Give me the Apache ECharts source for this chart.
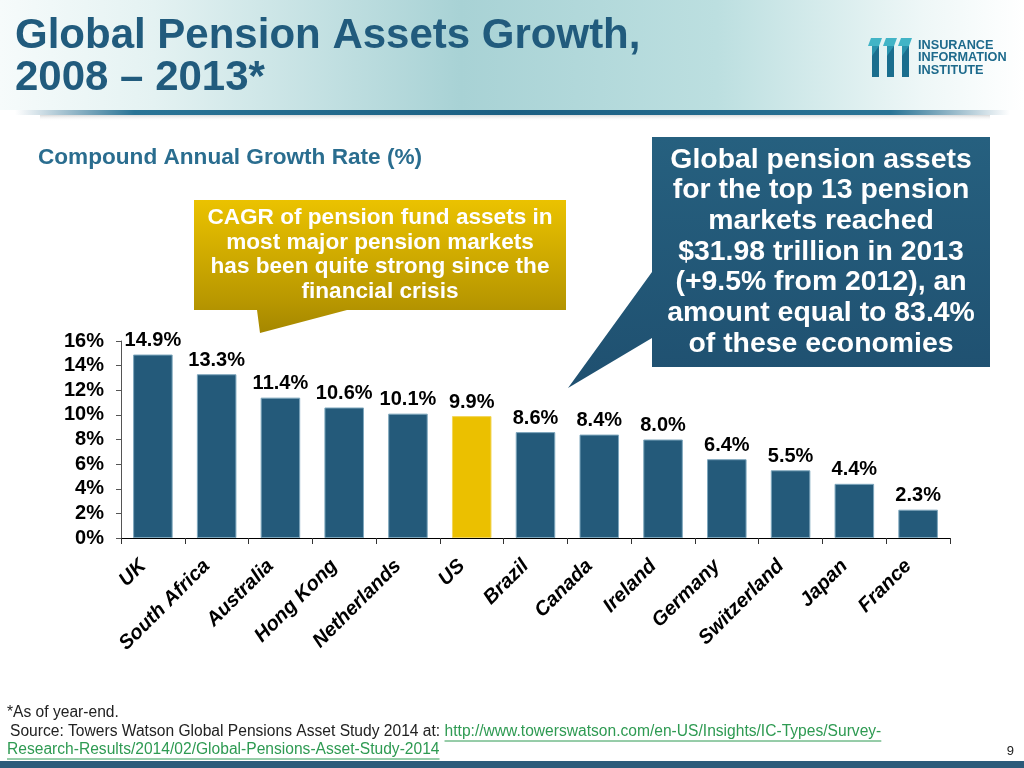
<!DOCTYPE html>
<html>
<head>
<meta charset="utf-8">
<script src="https://cdn.jsdelivr.net/npm/echarts@6/dist/echarts.min.js"></script>
<style>
html,body{margin:0;padding:0;background:#fff;}
#chart{width:1024px;height:768px;}
</style>
</head>
<body>
<div id="chart"></div>
<script>
// ---- data ----
const categories = ['UK','South Africa','Australia','Hong Kong','Netherlands','US','Brazil','Canada','Ireland','Germany','Switzerland','Japan','France'];
const cagrValues = [14.9,13.3,11.4,10.6,10.1,9.9,8.6,8.4,8.0,6.4,5.5,4.4,2.3];
const highlightCategory = 'US';
const yMin = 0, yMax = 16, yStep = 2;

const titleLines = ['Global Pension Assets Growth,', '2008 \u2013 2013*'];
const subtitle = 'Compound Annual Growth Rate (%)';
const yellowNote = ['CAGR of pension fund assets in','most major pension markets','has been quite strong since the','financial crisis'];
const blueNote = ['Global pension assets','for the top 13 pension','markets reached','$31.98 trillion in 2013','(+9.5% from 2012), an','amount equal to 83.4%','of these economies'];
const footNote = '*As of year-end.';
const sourceText = 'Source: Towers Watson Global Pensions Asset Study 2014 at: ';
const linkLine1 = 'http://www.towerswatson.com/en-US/Insights/IC-Types/Survey-';
const linkLine2 = 'Research-Results/2014/02/Global-Pensions-Asset-Study-2014';
const pageNumber = '9';
const logoLines = ['INSURANCE','INFORMATION','INSTITUTE'];

// ---- helpers ----
const FONT = "'Liberation Sans', Arial, Helvetica, sans-serif";
const BLUE = '#245a7a';
const GOLD = '#ebc000';
const mctx = document.createElement('canvas').getContext('2d');
function textWidth(t, size, weight){ mctx.font = (weight||'normal') + ' ' + size + 'px ' + FONT; return mctx.measureText(t).width; }

const chart = echarts.init(document.getElementById('chart'));

const graphics = [];
// header background
graphics.push({type:'rect', shape:{x:0,y:0,width:1024,height:110}, silent:true, z:-10,
  style:{fill:{type:'linear',x:0,y:0,x2:1,y2:0,colorStops:[
    {offset:0,color:'#f6fbfb'},{offset:0.15,color:'#e4f2f2'},{offset:0.45,color:'#a8d2d5'},
    {offset:0.7,color:'#bcdfe0'},{offset:0.9,color:'#eef7f7'},{offset:1,color:'#ffffff'}]}}});
// blue rule with fading ends
graphics.push({type:'rect', shape:{x:15,y:110,width:995,height:5}, silent:true, z:-9,
  style:{fill:{type:'linear',x:0,y:0,x2:1,y2:0,colorStops:[
    {offset:0,color:'rgba(30,100,135,0)'},{offset:0.12,color:'#2a7496'},{offset:0.5,color:'#1b5f82'},
    {offset:0.88,color:'#2a7496'},{offset:1,color:'rgba(30,100,135,0)'}]}}});
graphics.push({type:'rect', shape:{x:40,y:115,width:950,height:6}, silent:true, z:-9,
  style:{fill:{type:'linear',x:0,y:0,x2:0,y2:1,colorStops:[
    {offset:0,color:'rgba(150,150,150,0.35)'},{offset:1,color:'rgba(255,255,255,0)'}]}}});
// title
graphics.push({type:'text', left:15, top:15, silent:true,
  style:{text:titleLines.join('\n'), fontFamily:FONT, fontSize:42, fontWeight:'bold', fill:'#215b7d', lineHeight:42}});
// logo icon
for (let i=0;i<3;i++){
  const x0 = 868 + i*15;
  graphics.push({type:'polygon', silent:true, shape:{points:[[x0+3,38],[x0+14,38],[x0+11,46],[x0,46]]}, style:{fill:'#42b4c6'}});
  graphics.push({type:'rect', silent:true, shape:{x:x0+4,y:46,width:7,height:31}, style:{fill:'#1a6e8e'}});
  graphics.push({type:'polygon', silent:true, shape:{points:[[x0+4,46],[x0+11,46],[x0+4,56]]}, style:{fill:'#2a93ad'}});
}
logoLines.forEach((t,i)=>{
  graphics.push({type:'text', silent:true, style:{text:t, x:918, y:45+i*12.5, fontFamily:FONT, fontSize:12.7, fontWeight:'bold', fill:'#1d6a8c', verticalAlign:'middle'}});
});
// subtitle
graphics.push({type:'text', silent:true, style:{text:subtitle, x:38, y:158, fontFamily:FONT, fontSize:22.6, fontWeight:'bold', fill:'#2a6d8f', verticalAlign:'middle'}});
// yellow callout
graphics.push({type:'polygon', silent:true, shape:{points:[[194,200],[566,200],[566,310],[347,310],[260,333],[257,310],[194,310]]},
  style:{fill:{type:'linear',x:0,y:0,x2:0,y2:1,colorStops:[{offset:0,color:'#ebc200'},{offset:0.75,color:'#b99800'},{offset:1,color:'#a58700'}]}}});
graphics.push({type:'text', silent:true, style:{text:yellowNote.join('\n'), x:380, y:205.5, fontFamily:FONT, fontSize:22.6, fontWeight:'bold', fill:'#ffffff', align:'center', verticalAlign:'top', lineHeight:24.7}});
// blue callout
graphics.push({type:'polygon', silent:true, shape:{points:[[652,137],[990,137],[990,367],[652,367],[652,338],[568,388],[652,272]]},
  style:{fill:{type:'linear',x:0,y:0,x2:0,y2:1,colorStops:[{offset:0,color:'#26607f'},{offset:1,color:'#1f5070'}]}}});
graphics.push({type:'text', silent:true, style:{text:blueNote.join('\n'), x:821, y:144.5, fontFamily:FONT, fontSize:28.4, fontWeight:'bold', fill:'#ffffff', align:'center', verticalAlign:'top', lineHeight:30.7}});
// footer
const fs = 15.6;
graphics.push({type:'text', silent:true, style:{text:footNote, x:7, y:713, fontFamily:FONT, fontSize:fs, fill:'#222', verticalAlign:'middle'}});
graphics.push({type:'text', silent:true, style:{text:sourceText, x:10, y:732, fontFamily:FONT, fontSize:fs, fill:'#222', verticalAlign:'middle'}});
const linkX1 = 10 + textWidth(sourceText, fs);
const LINK = '#2e9a52';
graphics.push({type:'text', silent:true, style:{text:linkLine1, x:linkX1, y:732, fontFamily:FONT, fontSize:fs, fill:LINK, verticalAlign:'middle'}});
graphics.push({type:'line', silent:true, shape:{x1:linkX1,y1:741,x2:linkX1+textWidth(linkLine1,fs),y2:741}, style:{stroke:LINK,lineWidth:1}});
graphics.push({type:'text', silent:true, style:{text:linkLine2, x:7, y:750, fontFamily:FONT, fontSize:fs, fill:LINK, verticalAlign:'middle'}});
graphics.push({type:'line', silent:true, shape:{x1:7,y1:759,x2:7+textWidth(linkLine2,fs),y2:759}, style:{stroke:LINK,lineWidth:1}});
graphics.push({type:'text', silent:true, style:{text:pageNumber, x:1014, y:751, fontFamily:FONT, fontSize:13, fill:'#222', align:'right', verticalAlign:'middle'}});
graphics.push({type:'rect', silent:true, shape:{x:0,y:761,width:1024,height:7}, style:{fill:'#2c5b7a'}});

const option = {
  animation:false,
  backgroundColor:'#ffffff',
  textStyle:{fontFamily:FONT},
  grid:{left:121, right:74, top:341, bottom:230, containLabel:false},
  xAxis:{
    type:'category', data:categories,
    axisLine:{show:true, lineStyle:{color:'#000', width:1.2}},
    axisTick:{show:true, alignWithLabel:false, interval:0, length:6, lineStyle:{color:'#333'}},
    axisLabel:{interval:0, rotate:45, margin:15, padding:[0,14,0,0], color:'#000', fontSize:20, fontWeight:'bold', fontStyle:'italic', fontFamily:FONT}
  },
  yAxis:{
    type:'value', min:yMin, max:yMax, interval:yStep,
    splitLine:{show:false},
    axisLine:{show:true, lineStyle:{color:'#555', width:1}},
    axisTick:{show:true, inside:false, length:5, lineStyle:{color:'#555'}},
    axisLabel:{margin:17, color:'#000', fontSize:20, fontWeight:'bold', fontFamily:FONT, formatter:v=>v+'%'}
  },
  series:[{
    type:'bar',
    data:cagrValues.map((v,i)=>({value:v, itemStyle:{color: categories[i]===highlightCategory ? GOLD : BLUE, borderColor: categories[i]===highlightCategory ? '#f3d65a' : '#7ea7bd'}})),
    barWidth:'62%',
    itemStyle:{borderWidth:1},
    label:{show:true, position:'top', distance:4, color:'#000', fontSize:20, fontWeight:'bold', fontFamily:FONT, formatter:p=>p.value.toFixed(1)+'%'}
  }],
  graphic:{elements:graphics}
};
chart.setOption(option);
</script>
</body>
</html>
